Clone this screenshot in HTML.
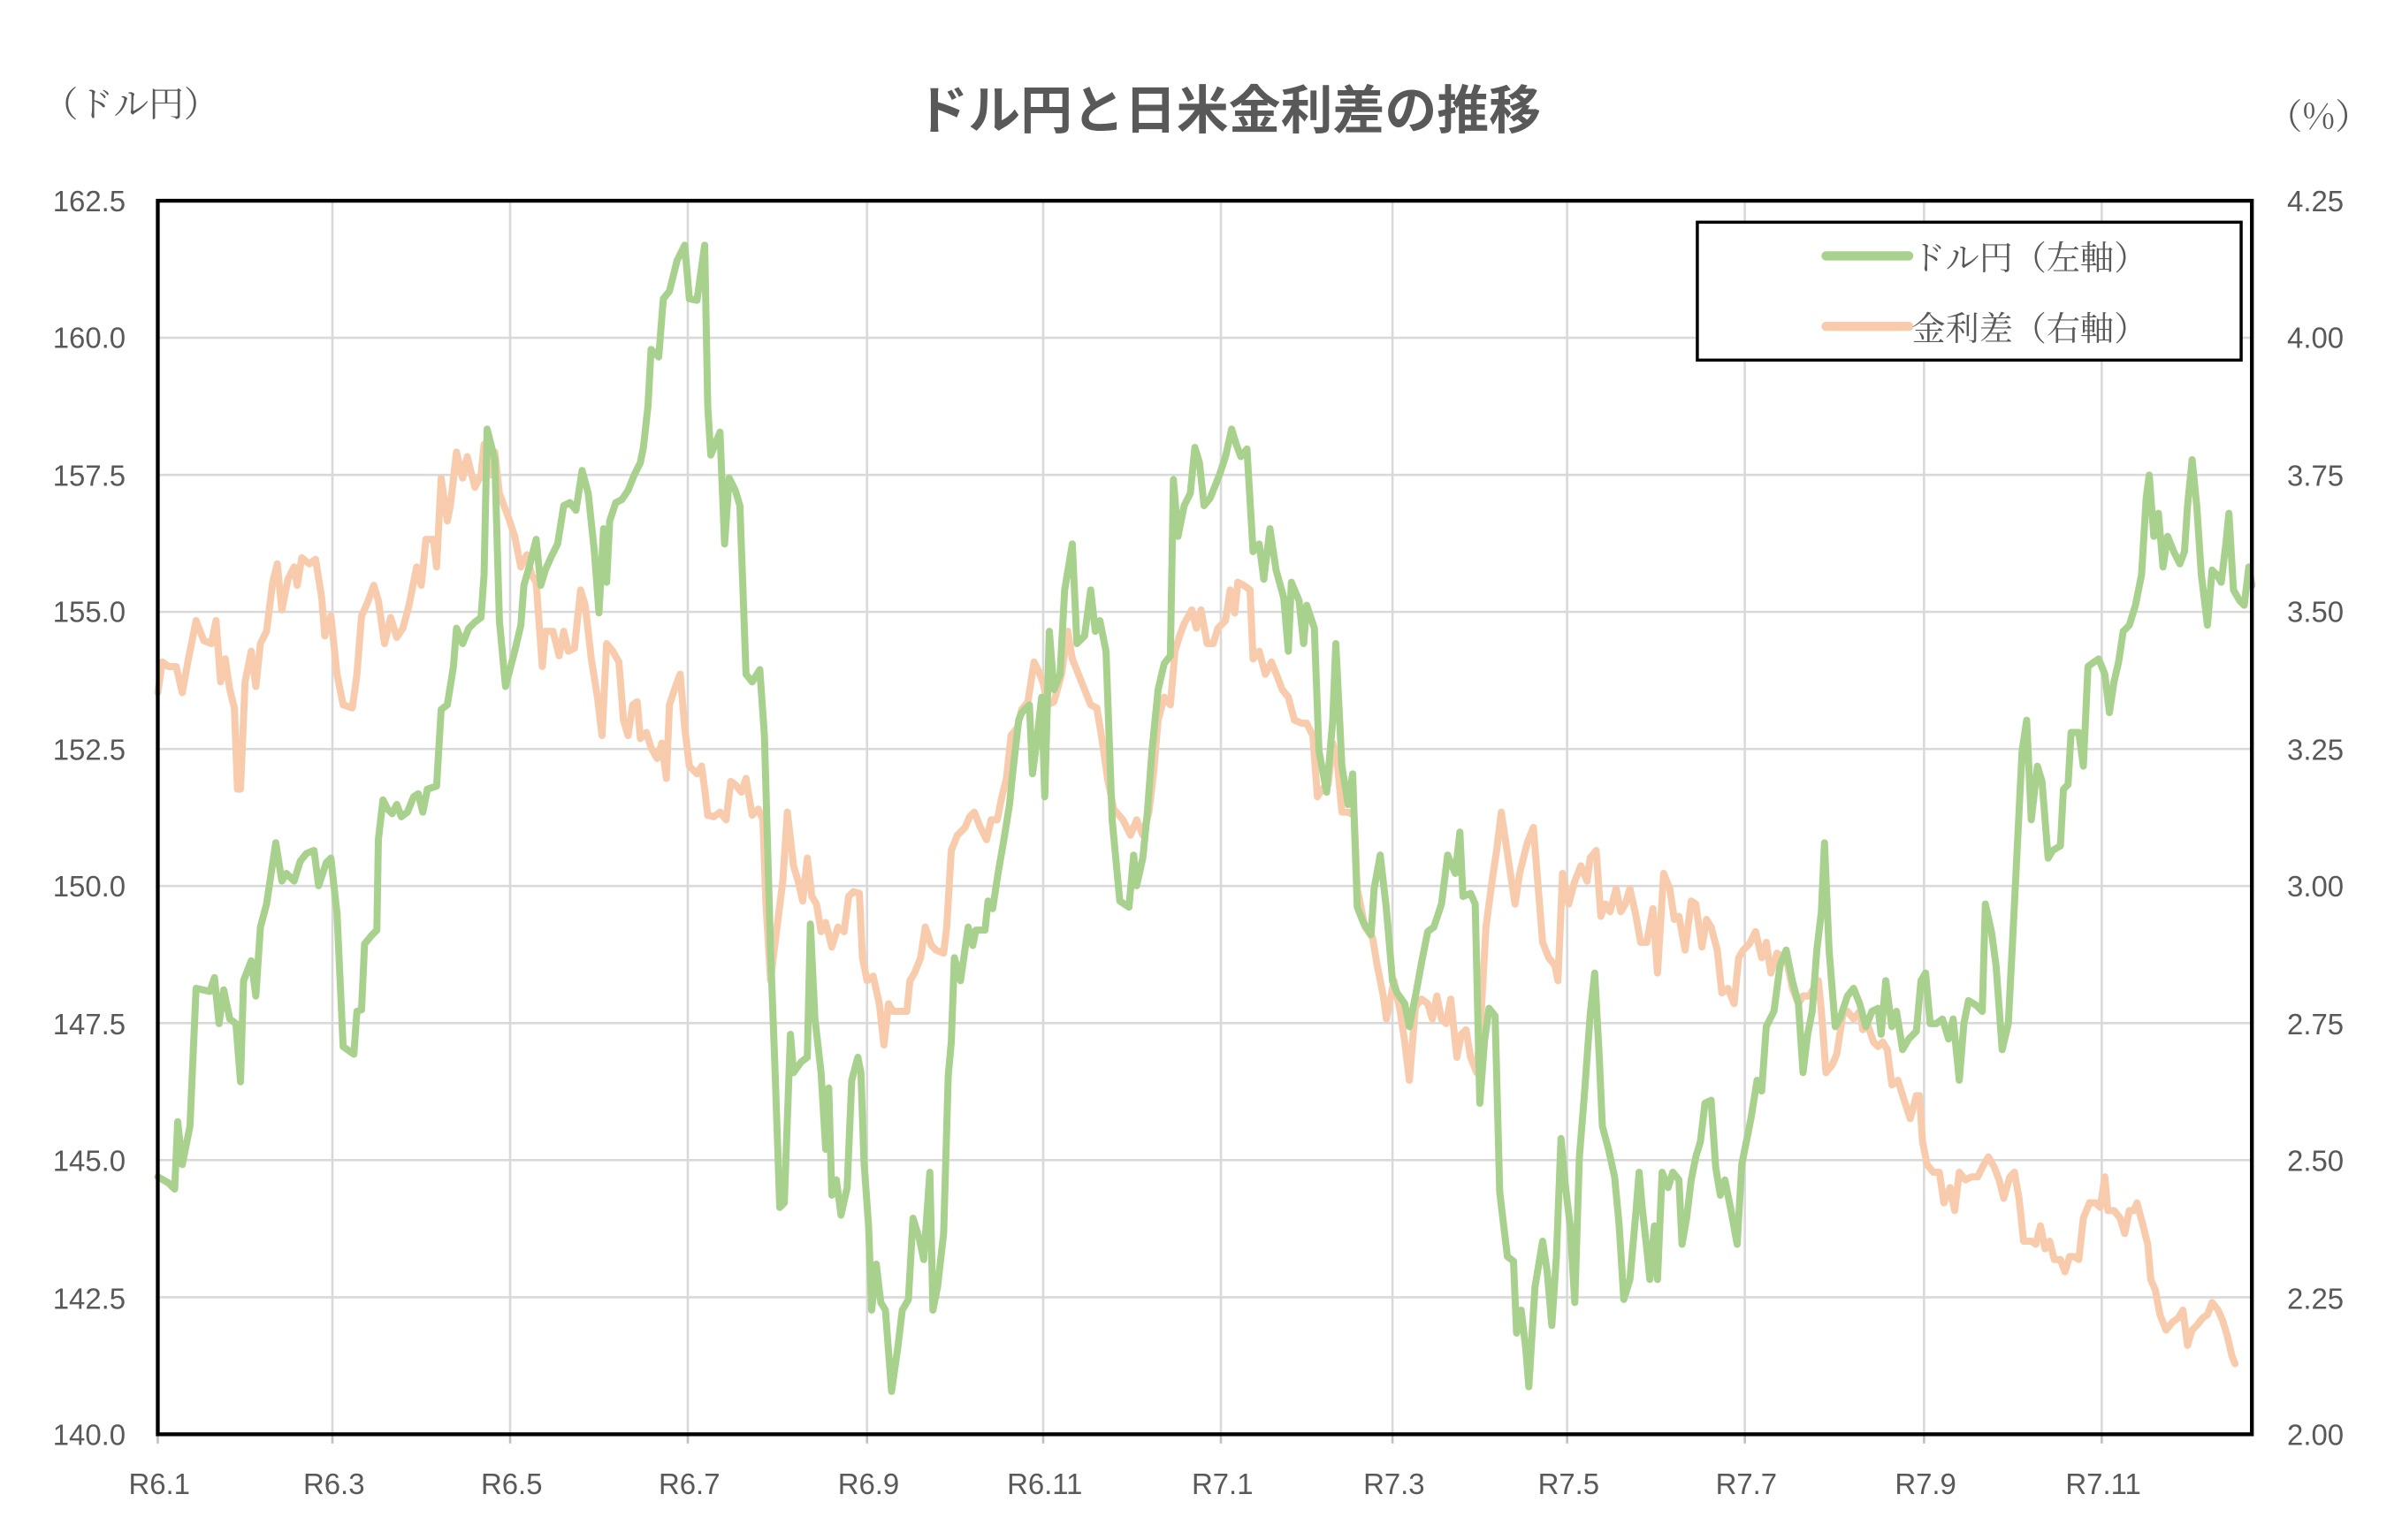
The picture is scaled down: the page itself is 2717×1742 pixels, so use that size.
<!DOCTYPE html>
<html><head><meta charset="utf-8"><style>
html,body{margin:0;padding:0;background:#fff;}
svg{display:block;}
.t{font-family:"Liberation Sans","Noto Sans CJK JP",sans-serif;fill:#595959;font-size:19px;}
.s{font-family:"Noto Serif CJK SC","Liberation Serif",serif;fill:#595959;}
</style></head><body>
<svg width="2717" height="1742" viewBox="0 0 1568 1005" preserveAspectRatio="none" xmlns="http://www.w3.org/2000/svg">
<rect width="1568" height="1005" fill="#fff"/>
<g stroke="#d9d9d9" stroke-width="1.5">
<line x1="103" x2="1470" y1="220.4" y2="220.4"/><line x1="103" x2="1470" y1="309.9" y2="309.9"/>
<line x1="103" x2="1470" y1="399.3" y2="399.3"/><line x1="103" x2="1470" y1="488.8" y2="488.8"/>
<line x1="103" x2="1470" y1="578.2" y2="578.2"/><line x1="103" x2="1470" y1="667.7" y2="667.7"/>
<line x1="103" x2="1470" y1="757.1" y2="757.1"/><line x1="103" x2="1470" y1="846.6" y2="846.6"/>
<line y1="131" y2="936" x1="217" x2="217"/><line y1="131" y2="936" x1="333" x2="333"/>
<line y1="131" y2="936" x1="449" x2="449"/><line y1="131" y2="936" x1="566" x2="566"/>
<line y1="131" y2="936" x1="681" x2="681"/><line y1="131" y2="936" x1="797" x2="797"/>
<line y1="131" y2="936" x1="909" x2="909"/><line y1="131" y2="936" x1="1023" x2="1023"/>
<line y1="131" y2="936" x1="1139" x2="1139"/><line y1="131" y2="936" x1="1256" x2="1256"/>
<line y1="131" y2="936" x1="1372" x2="1372"/>
</g>
<line x1="103" x2="1470" y1="936" y2="936" stroke="#bfbfbf" stroke-width="2"/>
<g stroke="#bfbfbf" stroke-width="1.5">
<line x1="103" x2="103" y1="936" y2="942"/><line x1="217" x2="217" y1="936" y2="942"/><line x1="333" x2="333" y1="936" y2="942"/><line x1="449" x2="449" y1="936" y2="942"/><line x1="566" x2="566" y1="936" y2="942"/><line x1="681" x2="681" y1="936" y2="942"/><line x1="797" x2="797" y1="936" y2="942"/><line x1="909" x2="909" y1="936" y2="942"/><line x1="1023" x2="1023" y1="936" y2="942"/><line x1="1139" x2="1139" y1="936" y2="942"/><line x1="1256" x2="1256" y1="936" y2="942"/><line x1="1372" x2="1372" y1="936" y2="942"/>
</g>
<polyline fill="none" stroke="#f8cbad" stroke-width="4.6" stroke-linejoin="round" stroke-linecap="round" points="103,452 106,432 110,435 115,435 119,452 123,430 128,405 133,418 138,420 141,405 144,445 147,430 150,450 153,462 155,515 157,515 160,445 164,425 167,448 170,420 174,412 178,380 181,368 184,398 188,378 192,370 194,382 197,364 202,368 206,365 210,390 212,415 216,402 220,440 224,460 230,462 233,440 236,402 240,393 244,382 247,392 251,420 255,403 259,416 263,410 267,395 272,370 275,382 278,352 283,352 285,370 288,312 292,340 294,330 298,295 302,312 305,298 310,318 314,310 316,290 320,310 323,295 326,322 332,338 336,350 340,370 344,362 347,375 350,380 354,435 356,412 361,412 365,428 368,412 371,425 375,423 379,385 382,395 386,430 390,455 393,480 396,420 400,425 404,432 407,470 410,480 413,460 416,458 418,482 422,478 425,488 429,495 432,485 435,508 437,460 441,448 444,440 447,475 450,500 455,505 458,500 460,515 462,532 466,533 470,530 474,535 477,510 480,512 484,517 487,508 491,532 495,528 498,535 500,590 503,640 506,615 511,575 514,530 518,565 521,575 524,588 527,560 530,585 533,590 536,608 539,602 543,618 547,605 551,608 554,585 557,582 561,583 563,625 566,640 570,637 574,655 577,682 580,655 583,660 587,660 592,660 594,640 597,635 601,625 604,605 608,617 611,620 616,622 618,605 621,555 625,545 630,540 633,533 636,530 640,540 644,548 647,535 651,535 654,520 657,508 660,480 664,475 667,463 671,458 675,432 678,438 681,446 684,460 688,458 693,440 697,412 700,430 704,440 708,450 712,460 716,462 719,480 723,508 727,528 733,535 738,545 742,535 746,545 750,530 753,505 756,470 760,455 764,460 767,425 770,415 773,407 778,398 781,410 784,398 788,420 792,420 795,410 800,405 803,385 806,400 808,380 812,382 816,385 818,430 822,425 826,440 830,432 834,442 837,450 841,455 845,470 850,472 853,472 857,480 860,520 863,515 867,512 870,485 873,498 876,530 880,530 884,532 886,580 891,605 896,612 899,630 903,650 905,665 910,640 914,660 917,680 920,705 924,657 928,652 932,655 935,665 938,650 941,665 944,668 947,652 951,690 954,675 957,672 960,690 964,700 967,660 970,605 974,575 977,555 980,530 983,550 986,570 989,590 992,570 997,550 1001,540 1003,565 1007,615 1011,625 1015,630 1017,640 1020,570 1024,590 1028,575 1032,565 1036,575 1038,560 1042,555 1045,598 1048,590 1051,595 1055,580 1058,595 1061,590 1064,580 1068,598 1071,615 1075,615 1079,593 1082,635 1086,570 1090,580 1093,600 1096,598 1100,620 1104,588 1107,590 1111,618 1114,600 1117,605 1121,620 1124,648 1128,645 1132,655 1135,625 1138,620 1142,616 1146,608 1150,625 1153,615 1156,635 1160,622 1164,625 1167,630 1170,645 1174,655 1177,650 1181,650 1184,645 1187,640 1189,660 1192,700 1196,695 1199,688 1203,662 1206,660 1210,665 1214,660 1216,672 1219,668 1223,680 1226,683 1229,680 1232,685 1235,708 1239,705 1243,718 1247,730 1251,715 1253,715 1255,745 1258,760 1262,765 1266,765 1269,785 1273,775 1276,790 1279,765 1283,770 1287,768 1291,768 1295,760 1298,755 1302,762 1305,770 1308,782 1312,768 1315,765 1318,782 1321,810 1326,810 1329,812 1332,800 1335,815 1338,810 1341,822 1345,822 1348,830 1351,820 1354,820 1357,822 1360,795 1364,785 1368,785 1371,788 1374,768 1376,790 1380,790 1384,795 1387,805 1390,790 1393,790 1395,785 1399,800 1402,812 1404,835 1407,842 1410,858 1414,868 1418,863 1422,860 1425,855 1428,878 1431,868 1434,865 1438,860 1441,858 1444,850 1448,855 1451,862 1454,872 1457,885 1459,890"/>
<polyline fill="none" stroke="#a9d18e" stroke-width="4.6" stroke-linejoin="round" stroke-linecap="round" points="103,768 110,772 114,776 116,732 119,760 124,735 128,645 137,647 140,638 143,668 146,646 150,665 154,668 157,706 159,640 164,627 167,650 170,605 174,590 180,550 184,575 187,570 192,575 196,562 200,557 205,555 208,578 213,563 216,560 220,596 224,683 231,688 233,660 236,659 238,616 243,610 246,607 247,548 250,522 253,528 256,531 259,525 262,533 266,530 270,520 273,518 276,530 279,515 285,513 288,463 292,460 296,435 298,410 302,420 306,410 310,406 314,403 316,375 318,280 323,300 326,405 330,448 336,425 340,408 342,382 346,368 350,352 353,382 356,372 360,363 364,355 368,330 372,328 376,333 380,307 384,322 388,360 391,400 394,345 396,380 398,340 402,328 406,326 410,320 414,310 418,302 420,292 423,265 425,228 430,233 433,195 437,190 442,170 447,160 450,195 455,196 460,160 462,265 464,297 470,282 473,355 476,312 480,320 483,330 487,440 491,445 496,437 499,480 503,620 506,700 509,788 512,785 516,675 518,700 523,693 527,690 529,603 532,665 536,700 539,750 541,710 543,780 546,770 549,793 553,775 556,705 560,690 562,700 564,758 567,800 569,855 572,825 575,850 578,855 582,908 586,880 589,855 593,848 596,795 600,808 603,822 607,765 609,855 612,840 616,805 619,702 621,680 623,625 627,640 632,605 635,617 637,607 643,607 645,588 648,593 652,567 655,550 659,525 661,505 665,470 667,465 672,460 674,505 676,490 680,455 682,520 685,412 688,450 692,440 695,385 700,355 703,420 708,415 712,385 715,412 718,405 722,425 726,535 731,588 737,592 740,558 742,578 746,560 749,530 752,490 756,450 760,433 764,428 766,313 769,350 773,330 777,322 780,292 783,302 786,330 790,325 796,310 800,298 804,280 807,290 810,298 814,293 818,360 822,355 825,378 829,345 833,372 838,390 841,425 843,380 848,392 851,420 853,395 858,410 861,490 866,517 870,470 872,420 876,500 880,525 883,505 886,592 890,602 895,610 897,580 901,558 905,593 909,640 912,648 917,655 920,670 924,650 928,628 932,608 936,605 941,590 945,558 950,570 953,543 955,585 960,583 963,590 966,720 969,680 972,658 976,663 979,778 984,820 988,823 990,870 993,855 996,880 998,905 1002,840 1007,810 1010,830 1013,865 1016,820 1019,743 1022,775 1025,800 1028,850 1031,755 1034,718 1038,663 1041,635 1044,690 1046,735 1050,750 1054,768 1057,800 1060,848 1064,835 1068,790 1070,765 1072,788 1075,815 1077,835 1080,800 1082,835 1085,765 1089,775 1092,765 1096,770 1098,812 1101,795 1104,770 1107,755 1110,745 1113,720 1117,718 1120,762 1123,780 1126,770 1130,790 1134,812 1137,760 1140,745 1143,730 1147,705 1150,712 1153,670 1158,660 1162,630 1166,620 1170,640 1174,655 1177,700 1180,675 1183,660 1186,620 1189,595 1191,550 1194,620 1198,670 1201,665 1206,650 1210,645 1214,655 1218,670 1222,660 1226,658 1228,675 1231,640 1235,670 1238,660 1242,685 1246,678 1251,673 1254,640 1257,635 1260,668 1264,668 1268,665 1272,678 1275,665 1279,705 1282,668 1285,653 1290,656 1294,660 1296,590 1300,608 1303,630 1307,685 1311,668 1314,610 1317,550 1320,490 1323,470 1326,535 1330,500 1333,510 1337,560 1340,555 1345,552 1347,515 1350,512 1352,478 1357,478 1360,500 1363,435 1367,432 1370,430 1374,440 1377,465 1380,445 1383,432 1386,412 1390,408 1394,395 1398,375 1401,325 1403,310 1406,350 1409,335 1412,370 1415,350 1419,360 1423,368 1426,360 1428,330 1431,300 1434,330 1437,375 1441,408 1444,372 1447,375 1450,380 1453,355 1455,335 1458,385 1462,392 1465,395 1468,370 1470,382"/>
<rect x="103" y="131" width="1367" height="805" fill="none" stroke="#000" stroke-width="2.5"/>
<g class="t" text-anchor="end">
<text x="82" y="138">162.5</text><text x="82" y="227">160.0</text><text x="82" y="317">157.5</text><text x="82" y="406">155.0</text><text x="82" y="496">152.5</text><text x="82" y="585">150.0</text><text x="82" y="675">147.5</text><text x="82" y="764">145.0</text><text x="82" y="854">142.5</text><text x="82" y="943">140.0</text>
</g>
<g class="t" text-anchor="start">
<text x="1493" y="138">4.25</text><text x="1493" y="227">4.00</text><text x="1493" y="317">3.75</text><text x="1493" y="406">3.50</text><text x="1493" y="496">3.25</text><text x="1493" y="585">3.00</text><text x="1493" y="675">2.75</text><text x="1493" y="764">2.50</text><text x="1493" y="854">2.25</text><text x="1493" y="943">2.00</text>
</g>
<g class="t" text-anchor="middle">
<text x="104" y="975">R6.1</text><text x="218" y="975">R6.3</text><text x="334" y="975">R6.5</text><text x="450" y="975">R6.7</text><text x="567" y="975">R6.9</text><text x="682" y="975">R6.11</text><text x="798" y="975">R7.1</text><text x="910" y="975">R7.3</text><text x="1024" y="975">R7.5</text><text x="1140" y="975">R7.7</text><text x="1257" y="975">R7.9</text><text x="1373" y="975">R7.11</text>
</g>
<text x="802" y="84" text-anchor="middle" style="font-family:'Liberation Sans','Noto Sans CJK JP',sans-serif;font-weight:bold;font-size:34px;fill:#595959">ドル円と日米金利差の推移</text>
<text x="28" y="76" class="s" style="font-size:23px">（ドル円）</text>
<text x="1480" y="84" class="s" style="font-size:23px">（%）</text>
<rect x="1108" y="145" width="355" height="90" fill="#fff" stroke="#000" stroke-width="2"/>
<line x1="1192" x2="1246" y1="167" y2="167" stroke="#a9d18e" stroke-width="6" stroke-linecap="round"/>
<line x1="1192" x2="1246" y1="213" y2="213" stroke="#f8cbad" stroke-width="6" stroke-linecap="round"/>
<text x="1248" y="176" class="s" style="font-size:22px">ドル円（左軸）</text>
<text x="1248" y="222" class="s" style="font-size:22px">金利差（右軸）</text>
</svg>
</body></html>
